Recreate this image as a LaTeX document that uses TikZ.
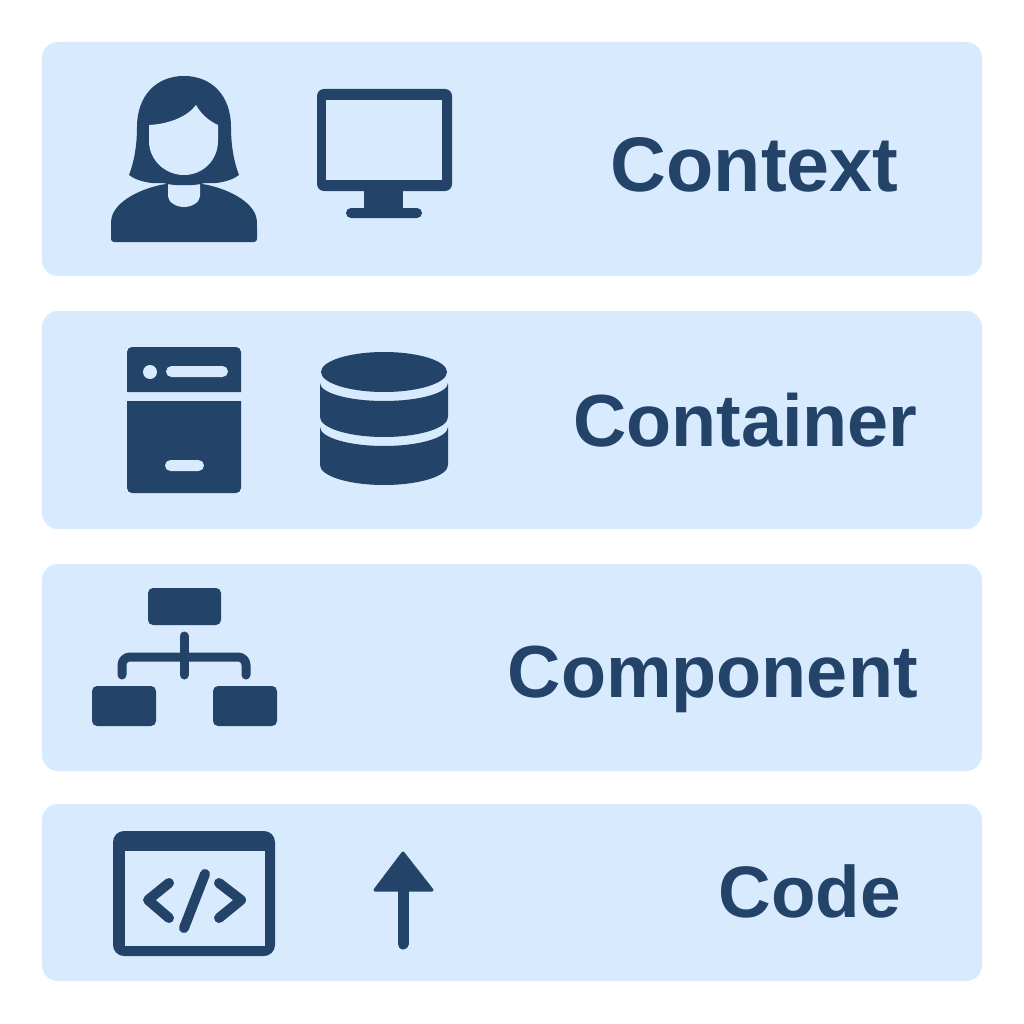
\documentclass[tikz,border=0pt]{standalone}
\usepackage{fontspec}
\setmainfont{Liberation Sans}
\definecolor{bandblue}{HTML}{D8EAFD}
\definecolor{iconblue}{HTML}{234369}
\def\Band#1#2#3#4#5#6{%
	\fill[band] (42,#2) rectangle (982,#3);
	\node[level label, font=\fontsize{#6}{50}\selectfont\bfseries] (#1) at (#4,#5) {#1};
}
\begin{document}
\begin{tikzpicture}[x=0.02cm, y=-0.02cm,
	band/.style={fill=bandblue, rounded corners=0.32cm},
	level label/.style={anchor=base east, inner sep=0pt, text=iconblue},
	icon/.style={fill=iconblue},
	hole/.style={fill=bandblue},
	stroke/.style={draw=iconblue, line width=0.18cm, line cap=round, line join=round}
	]
	\useasboundingbox (0,0) rectangle (1024,1024);
	\fill[white] (0,0) rectangle (1024,1024);
	\Band{Context}{42}{276}{899}{191}{44}
	\Band{Container}{311}{529}{918}{446}{42}
	\Band{Component}{564}{771}{918}{697}{42}
	\Band{Code}{804}{981}{901}{917}{41.5}
	% person
	\fill[icon, rounded corners=0.06cm] (111,242) -- (111,224) .. controls (112,204) and (136,190) .. (165,184)
		-- (203,184) .. controls (232,190) and (256,204) .. (257,224) -- (257,242) -- cycle;
	\fill[hole] (168,178) -- (168,196) .. controls (168,202) and (176,207) .. (184,207)
		.. controls (192,207) and (200,202) .. (200,196) -- (200,178) -- cycle;
	\fill[icon] (129,175) .. controls (134,162) and (137,146) .. (137,127)
		.. controls (137,96) and (156,76) .. (184,76) .. controls (212,76) and (231,96) .. (231,127)
		.. controls (231,146) and (234,162) .. (239,175) .. controls (230,182) and (215,184) .. (205,183)
		.. controls (196,186) and (172,186) .. (163,183) .. controls (153,184) and (138,182) .. (129,175) -- cycle;
	\fill[hole] (149,125) .. controls (170,124) and (188,116) .. (196,105)
		.. controls (201,114) and (209,121) .. (218,125) -- (218,141)
		.. controls (218,160) and (203,175) .. (184,175) .. controls (165,175) and (149,160) .. (149,141) -- cycle;
	% monitor
	\fill[icon, rounded corners=0.14cm] (317,89) rectangle (452,191);
	\fill[hole] (326,100) rectangle (442,180);
	\fill[icon] (364,190) rectangle (403,210);
	\fill[icon, rounded corners=0.1cm] (346,208) rectangle (422,218);
	% server
	\fill[icon] (127,392) -- (127,352) arc[start angle=180, end angle=270, radius=5] -- (236,347)
		arc[start angle=270, end angle=360, radius=5] -- (241,392) -- cycle;
	\fill[icon] (127,401) -- (241,401) -- (241,488) arc[start angle=0, end angle=90, radius=5]
		-- (132,493) arc[start angle=90, end angle=180, radius=5] -- cycle;
	\fill[hole] (150,372) circle (0.14cm);
	\fill[hole, rounded corners=0.11cm] (166,366) rectangle (228,377);
	\fill[hole, rounded corners=0.11cm] (165,460) rectangle (204,471);
	% database
	\fill[icon] (384,372) ellipse [x radius=63, y radius=20];
	\fill[icon] (320,383) arc[start angle=180, end angle=0, x radius=64, y radius=18]
		-- (448,417) arc[start angle=0, end angle=180, x radius=64, y radius=20] -- cycle;
	\fill[icon] (320,427) arc[start angle=180, end angle=0, x radius=64, y radius=19]
		-- (448,465) arc[start angle=0, end angle=180, x radius=64, y radius=20] -- cycle;
	% hierarchy
	\fill[icon, rounded corners=0.1cm] (148,588) rectangle (221,625);
	\fill[icon, rounded corners=0.1cm] (92,686) rectangle (156,726);
	\fill[icon, rounded corners=0.1cm] (213,686) rectangle (277,726);
	\draw[stroke, rounded corners=0.16cm] (122,675) -- (122,657) -- (246,657) -- (246,675);
	\draw[stroke] (184,636) -- (184,675);
	% code window
	\fill[icon, rounded corners=0.22cm] (113,831) rectangle (275,956);
	\fill[hole] (125,851) rectangle (265,946);
	\draw[stroke, line width=0.2cm] (169,883) -- (148,900) -- (169,918);
	\draw[stroke, line width=0.2cm] (219,883) -- (241,900) -- (219,918);
	\draw[stroke, line width=0.2cm] (205,874) -- (184,928);
	% arrow
	\filldraw[draw=iconblue, fill=iconblue, line width=0.06cm, line join=round] (403,853) -- (432,890) -- (375,890) -- cycle;
	\draw[draw=iconblue, line width=0.22cm, line cap=round] (403,890) -- (403,944);
\end{tikzpicture}
\end{document}
